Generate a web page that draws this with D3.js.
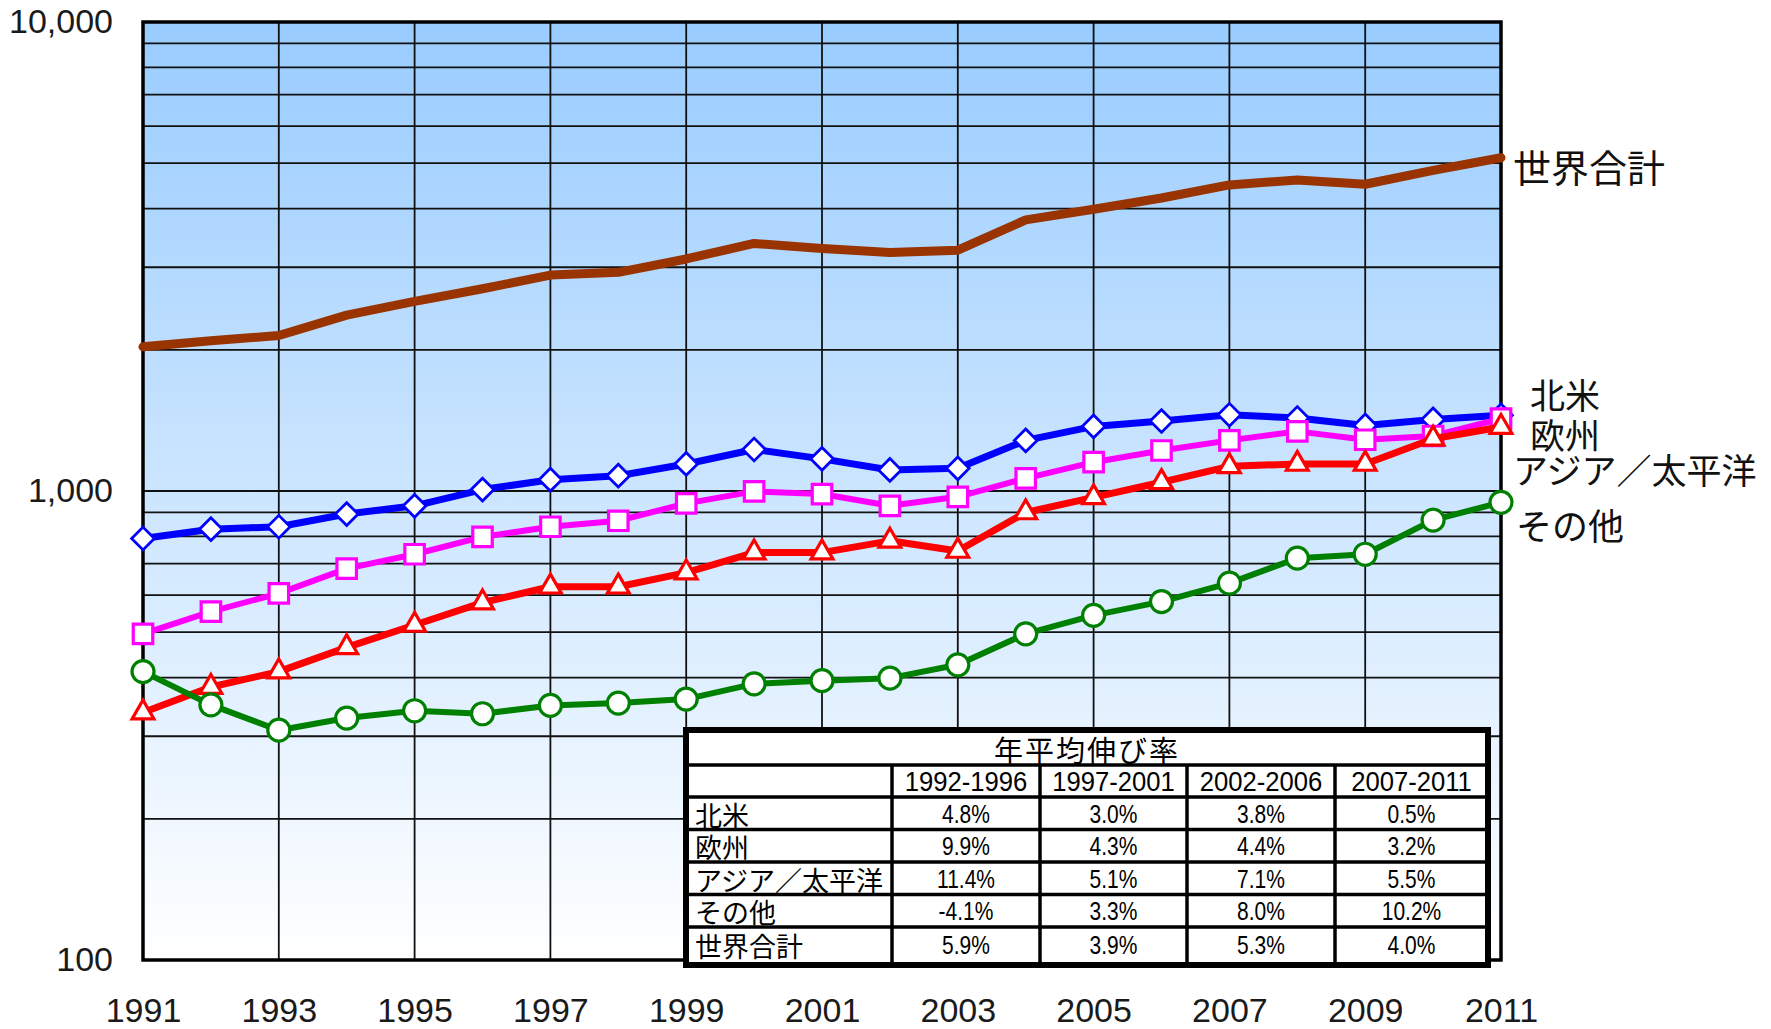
<!DOCTYPE html>
<html>
<head>
<meta charset="utf-8">
<script src="https://cdn.jsdelivr.net/npm/d3@7"></script>
<style>
  body { margin: 0; background: #fff; }
  svg { display: block; }
  .num { font-family: "Liberation Sans", Arial, sans-serif; }
  .jp { font-family: "Noto Sans CJK JP", sans-serif; }
</style>
</head>
<body>
<svg id="chart" width="1771" height="1029"></svg>
<script>
// data
const years = [1991, 1992, 1993, 1994, 1995, 1996, 1997, 1998, 1999, 2000, 2001,
               2002, 2003, 2004, 2005, 2006, 2007, 2008, 2009, 2010, 2011];
const northAmerica = [792, 829, 839, 893, 930, 1007, 1057, 1078, 1142, 1226, 1171,
                      1109, 1118, 1282, 1373, 1410, 1454, 1431, 1380, 1421, 1450];
const europe = [496, 553, 605, 683, 733, 798, 839, 864, 941, 998, 985,
                930, 972, 1064, 1152, 1220, 1282, 1340, 1286, 1310, 1426];
const asiaPacific = [337, 382, 412, 464, 518, 578, 625, 625, 670, 739, 739,
                     783, 745, 900, 969, 1044, 1129, 1142, 1142, 1292, 1369];
const other = [412, 350, 309, 328, 340, 335, 349, 353, 360, 388, 394,
               399, 426, 496, 543, 581, 636, 719, 733, 867, 946];
const world = [2030, 2091, 2146, 2371, 2536, 2699, 2886, 2926, 3124, 3372, 3290,
               3226, 3262, 3785, 3988, 4214, 4494, 4603, 4508, 4826, 5136];

const yTicks = [100, 1000, 10000];
const xTicks = [1991, 1993, 1995, 1997, 1999, 2001, 2003, 2005, 2007, 2009, 2011];

// growth table
const tableTitle = "年平均伸び率";
const periods = ["1992-1996", "1997-2001", "2002-2006", "2007-2011"];
const regions = ["北米", "欧州", "アジア／太平洋", "その他", "世界合計"];
const growthNA = ["4.8%", "3.0%", "3.8%", "0.5%"];
const growthEU = ["9.9%", "4.3%", "4.4%", "3.2%"];
const growthAP = ["11.4%", "5.1%", "7.1%", "5.5%"];
const growthOther = ["-4.1%", "3.3%", "8.0%", "10.2%"];
const growthWorld = ["5.9%", "3.9%", "5.3%", "4.0%"];

const svg = d3.select("#chart");

const plotLeft = 143, plotRight = 1501, plotTop = 22, plotBottom = 960;

const x = d3.scaleLinear().domain([1991, 2011]).range([plotLeft, plotRight]);
const y = d3.scaleLog().domain([100, 10000]).range([plotBottom, plotTop]);

// background gradient
const defs = svg.append("defs");
const grad = defs.append("linearGradient")
    .attr("id", "bg").attr("x1", 0).attr("y1", 0).attr("x2", 0).attr("y2", 1);
grad.append("stop").attr("offset", "0%").attr("stop-color", "#99ccff");
grad.append("stop").attr("offset", "100%").attr("stop-color", "#ffffff");

svg.append("rect")
    .attr("x", plotLeft).attr("y", plotTop)
    .attr("width", plotRight - plotLeft).attr("height", plotBottom - plotTop)
    .attr("fill", "url(#bg)");

// grid
const minor = [];
[100, 1000].forEach(d => { for (let k = 2; k <= 9; k++) minor.push(d * k); });
minor.push(1000);

svg.append("g")
    .selectAll("line")
    .data(minor)
    .join("line")
    .attr("x1", plotLeft).attr("x2", plotRight)
    .attr("y1", d => y(d)).attr("y2", d => y(d))
    .attr("stroke", "#111").attr("stroke-width", 1.8);

svg.append("g")
    .selectAll("line")
    .data(xTicks.slice(1, -1))
    .join("line")
    .attr("x1", d => x(d)).attr("x2", d => x(d))
    .attr("y1", plotTop).attr("y2", plotBottom)
    .attr("stroke", "#111").attr("stroke-width", 1.8);

svg.append("rect")
    .attr("x", plotLeft).attr("y", plotTop)
    .attr("width", plotRight - plotLeft).attr("height", plotBottom - plotTop)
    .attr("fill", "none").attr("stroke", "#000").attr("stroke-width", 3.5);

// axes
const yAxis = svg.append("g")
    .attr("transform", `translate(${plotLeft},0)`)
    .call(d3.axisLeft(y).tickValues(yTicks).tickFormat(d3.format(",")).tickSize(0).tickPadding(30));
yAxis.select(".domain").remove();
yAxis.selectAll("text")
    .attr("class", "num")
    .style("font-size", "34px")
    .attr("fill", "#1a1a1a");

const xAxis = svg.append("g")
    .attr("transform", `translate(0,${plotBottom})`)
    .call(d3.axisBottom(x).tickValues(xTicks).tickFormat(d3.format("d")).tickSize(0).tickPadding(38));
xAxis.select(".domain").remove();
xAxis.selectAll("text")
    .attr("class", "num")
    .style("font-size", "34px")
    .attr("fill", "#1a1a1a");

// series
const series = [
    {name: "北米", values: northAmerica, color: "#0000ff", width: 7, marker: "diamond", lx: 1530, dy: -22, fs: 35},
    {name: "欧州", values: europe, color: "#ff00ff", width: 6, marker: "square", lx: 1530, dy: 15, fs: 35},
    {name: "アジア／太平洋", values: asiaPacific, color: "#ff0000", width: 7, marker: "triangle", lx: 1513, dy: 41, fs: 35},
    {name: "その他", values: other, color: "#008000", width: 6, marker: "circle", lx: 1516, dy: 22, fs: 36},
    {name: "世界合計", values: world, color: "#993300", width: 9, marker: null, lx: 1513, dy: 8, fs: 38}
];

const line = d3.line()
    .x((d, i) => x(years[i]))
    .y(d => y(d));

const symbols = {
    diamond: d3.symbol().type(d3.symbolDiamond2).size(330),
    square: d3.symbol().type(d3.symbolSquare).size(380),
    triangle: d3.symbol().type(d3.symbolTriangle2).size(340),
    circle: d3.symbol().type(d3.symbolCircle).size(380)
};

series.forEach(s => {
    const g = svg.append("g");
    g.append("path")
        .datum(s.values)
        .attr("d", line)
        .attr("fill", "none")
        .attr("stroke", s.color)
        .attr("stroke-width", s.width)
        .attr("stroke-linejoin", "round")
        .attr("stroke-linecap", "round");

    if (s.marker) {
        g.selectAll("path.mk")
            .data(s.values)
            .join("path")
            .attr("class", "mk")
            .attr("d", symbols[s.marker])
            .attr("transform", (d, i) => `translate(${x(years[i])},${y(d)})`)
            .attr("fill", "#fff")
            .attr("stroke", s.color)
            .attr("stroke-width", s.marker == "diamond" ? 2.8 : 3.2);
    }
});

// end labels
svg.append("g")
    .selectAll("text")
    .data(series)
    .join("text")
    .attr("class", "jp")
    .attr("x", d => d.lx)
    .attr("y", d => y(d.values[d.values.length - 1]) + d.dy)
    .attr("dominant-baseline", "central")
    .style("font-size", d => d.fs + "px")
    .attr("fill", "#111")
    .text(d => d.name);

// growth table
const tLeft = 686, tRight = 1488, tTop = 730, tBottom = 965;
const colX = [686, 892, 1040, 1187, 1335, 1488];
const rowY = [730, 765, 797, 829.5, 862, 894.5, 927, 962];
const rows = [growthNA, growthEU, growthAP, growthOther, growthWorld];

const table = svg.append("g");
table.append("rect")
    .attr("x", tLeft).attr("y", tTop)
    .attr("width", tRight - tLeft).attr("height", tBottom - tTop)
    .attr("fill", "#fff");

// row lines
table.selectAll("line.row")
    .data(rowY.slice(1, -1))
    .join("line")
    .attr("class", "row")
    .attr("x1", tLeft).attr("x2", tRight)
    .attr("y1", d => d).attr("y2", d => d)
    .attr("stroke", "#000").attr("stroke-width", 3.5);

// column lines (below title row)
table.selectAll("line.col")
    .data(colX.slice(1, -1))
    .join("line")
    .attr("class", "col")
    .attr("x1", d => d).attr("x2", d => d)
    .attr("y1", rowY[1]).attr("y2", tBottom)
    .attr("stroke", "#000").attr("stroke-width", 3.5);

table.append("rect")
    .attr("x", tLeft).attr("y", tTop)
    .attr("width", tRight - tLeft).attr("height", tBottom - tTop)
    .attr("fill", "none").attr("stroke", "#000").attr("stroke-width", 6);

table.append("text")
    .attr("class", "jp")
    .attr("x", (tLeft + tRight) / 2)
    .attr("y", (rowY[0] + rowY[1]) / 2 + 1)
    .attr("text-anchor", "middle")
    .attr("dominant-baseline", "central")
    .style("font-size", "29px")
    .style("letter-spacing", "2px")
    .text(tableTitle);

table.selectAll("text.period")
    .data(periods)
    .join("text")
    .attr("class", "period num")
    .attr("text-anchor", "middle")
    .attr("dominant-baseline", "central")
    .attr("transform", (d, i) => `translate(${(colX[i + 1] + colX[i + 2]) / 2},${(rowY[1] + rowY[2]) / 2 + 1}) scale(0.95,1)`)
    .style("font-size", "27px")
    .text(d => d);

table.selectAll("text.region")
    .data(regions)
    .join("text")
    .attr("class", "region jp")
    .attr("x", tLeft + 9)
    .attr("y", (d, i) => (rowY[i + 2] + rowY[i + 3]) / 2 + 1)
    .attr("dominant-baseline", "central")
    .style("font-size", "27px")
    .text(d => d);

rows.forEach((r, ri) => {
    table.selectAll(`text.v${ri}`)
        .data(r)
        .join("text")
        .attr("class", `v${ri} num`)
        .attr("text-anchor", "middle")
        .attr("dominant-baseline", "central")
        .attr("transform", (d, i) => `translate(${(colX[i + 1] + colX[i + 2]) / 2},${(rowY[ri + 2] + rowY[ri + 3]) / 2 + 1}) scale(0.84,1)`)
        .style("font-size", "25px")
        .text(d => d);
});
</script>
</body>
</html>
